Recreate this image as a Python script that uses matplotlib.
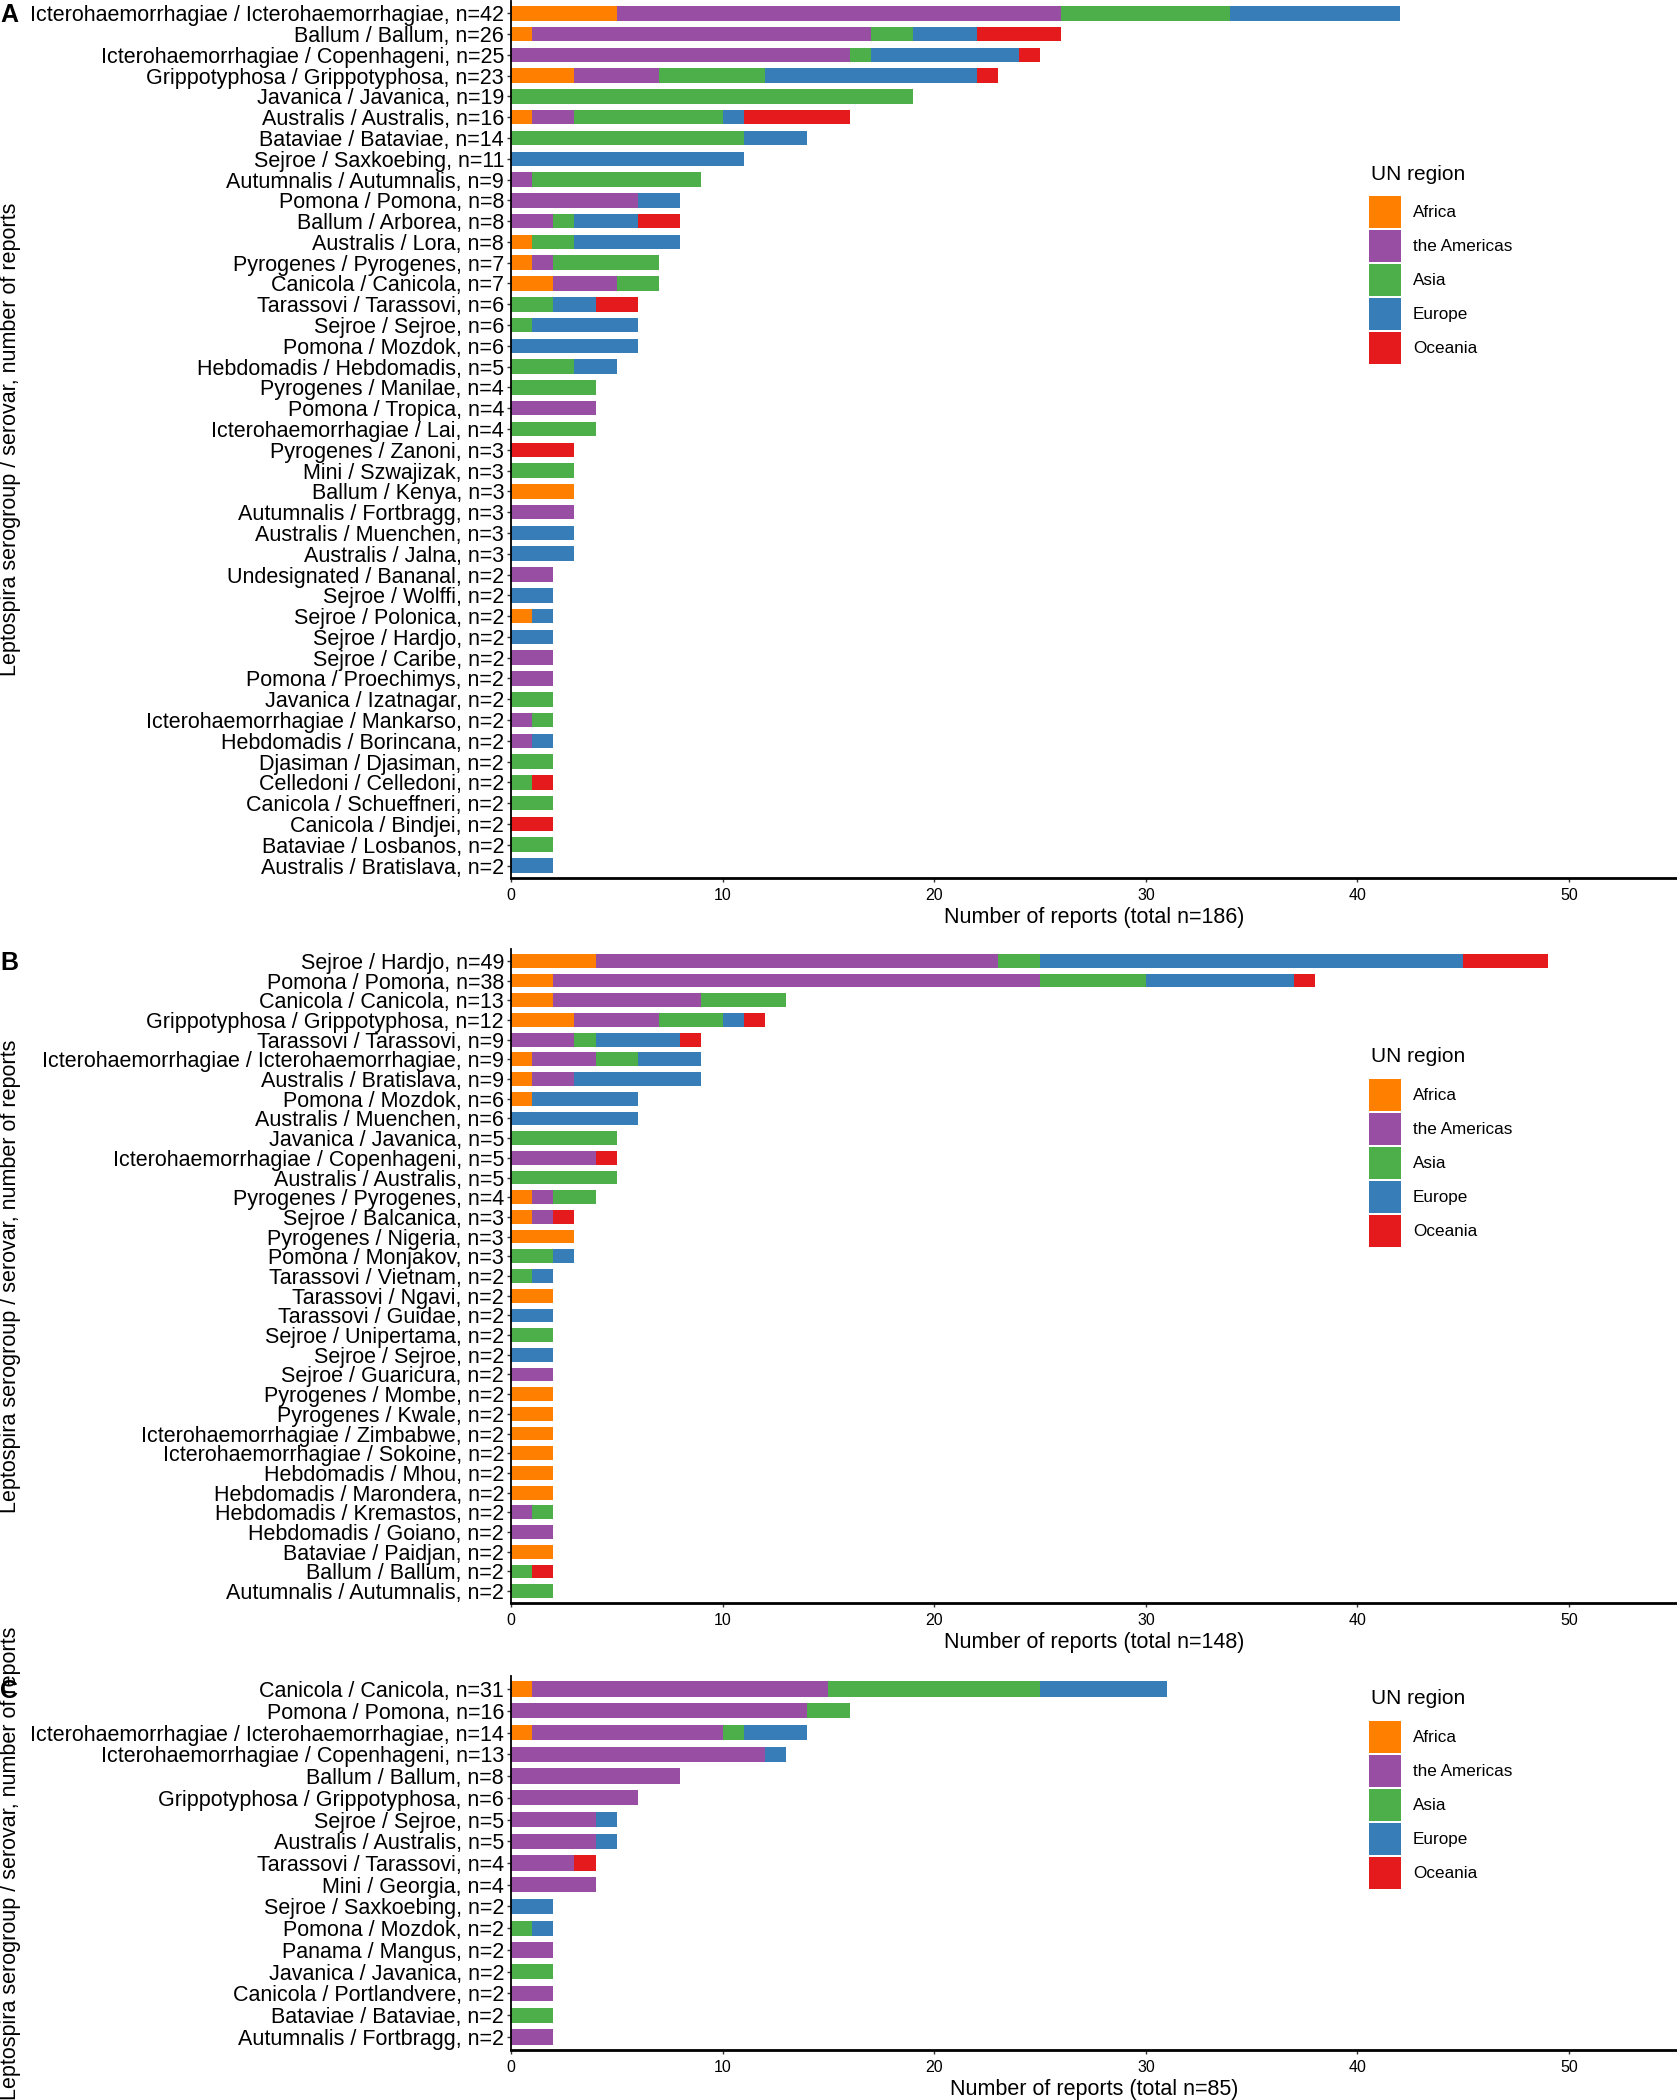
import matplotlib
matplotlib.use("Agg")
import matplotlib.pyplot as plt
from matplotlib.patches import Patch

plt.rcParams["font.family"] = ["Liberation Sans", "DejaVu Sans"]

W, H = 1677, 2100

REGIONS = ["Africa", "the Americas", "Asia", "Europe", "Oceania"]
COLORS = ["#FF7F00", "#984EA3", "#4DAF4A", "#377EB8", "#E41A1C"]

# Panel A
a_labels = [
    "Icterohaemorrhagiae / Icterohaemorrhagiae, n=42", "Ballum / Ballum, n=26",
    "Icterohaemorrhagiae / Copenhageni, n=25", "Grippotyphosa / Grippotyphosa, n=23",
    "Javanica / Javanica, n=19", "Australis / Australis, n=16", "Bataviae / Bataviae, n=14",
    "Sejroe / Saxkoebing, n=11", "Autumnalis / Autumnalis, n=9", "Pomona / Pomona, n=8",
    "Ballum / Arborea, n=8", "Australis / Lora, n=8", "Pyrogenes / Pyrogenes, n=7",
    "Canicola / Canicola, n=7", "Tarassovi / Tarassovi, n=6", "Sejroe / Sejroe, n=6",
    "Pomona / Mozdok, n=6", "Hebdomadis / Hebdomadis, n=5", "Pyrogenes / Manilae, n=4",
    "Pomona / Tropica, n=4", "Icterohaemorrhagiae / Lai, n=4", "Pyrogenes / Zanoni, n=3",
    "Mini / Szwajizak, n=3", "Ballum / Kenya, n=3", "Autumnalis / Fortbragg, n=3",
    "Australis / Muenchen, n=3", "Australis / Jalna, n=3", "Undesignated / Bananal, n=2",
    "Sejroe / Wolffi, n=2", "Sejroe / Polonica, n=2", "Sejroe / Hardjo, n=2",
    "Sejroe / Caribe, n=2", "Pomona / Proechimys, n=2", "Javanica / Izatnagar, n=2",
    "Icterohaemorrhagiae / Mankarso, n=2", "Hebdomadis / Borincana, n=2",
    "Djasiman / Djasiman, n=2", "Celledoni / Celledoni, n=2", "Canicola / Schueffneri, n=2",
    "Canicola / Bindjei, n=2", "Bataviae / Losbanos, n=2", "Australis / Bratislava, n=2",
]
a_africa = [5, 1, 0, 3, 0, 1, 0, 0, 0, 0, 0, 1, 1, 2, 0, 0, 0, 0, 0, 0, 0,
            0, 0, 3, 0, 0, 0, 0, 0, 1, 0, 0, 0, 0, 0, 0, 0, 0, 0, 0, 0, 0]
a_americas = [21, 16, 16, 4, 0, 2, 0, 0, 1, 6, 2, 0, 1, 3, 0, 0, 0, 0, 0, 4, 0,
              0, 0, 0, 3, 0, 0, 2, 0, 0, 0, 2, 2, 0, 1, 1, 0, 0, 0, 0, 0, 0]
a_asia = [8, 2, 1, 5, 19, 7, 11, 0, 8, 0, 1, 2, 5, 2, 2, 1, 0, 3, 4, 0, 4,
          0, 3, 0, 0, 0, 0, 0, 0, 0, 0, 0, 0, 2, 1, 0, 2, 1, 2, 0, 2, 0]
a_europe = [8, 3, 7, 10, 0, 1, 3, 11, 0, 2, 3, 5, 0, 0, 2, 5, 6, 2, 0, 0, 0,
            0, 0, 0, 0, 3, 3, 0, 2, 1, 2, 0, 0, 0, 0, 1, 0, 0, 0, 0, 0, 2]
a_oceania = [0, 4, 1, 1, 0, 5, 0, 0, 0, 0, 2, 0, 0, 0, 2, 0, 0, 0, 0, 0, 0,
             3, 0, 0, 0, 0, 0, 0, 0, 0, 0, 0, 0, 0, 0, 0, 0, 1, 0, 2, 0, 0]

# Panel B
b_labels = [
    "Sejroe / Hardjo, n=49", "Pomona / Pomona, n=38", "Canicola / Canicola, n=13",
    "Grippotyphosa / Grippotyphosa, n=12", "Tarassovi / Tarassovi, n=9",
    "Icterohaemorrhagiae / Icterohaemorrhagiae, n=9", "Australis / Bratislava, n=9",
    "Pomona / Mozdok, n=6", "Australis / Muenchen, n=6", "Javanica / Javanica, n=5",
    "Icterohaemorrhagiae / Copenhageni, n=5", "Australis / Australis, n=5",
    "Pyrogenes / Pyrogenes, n=4", "Sejroe / Balcanica, n=3", "Pyrogenes / Nigeria, n=3",
    "Pomona / Monjakov, n=3", "Tarassovi / Vietnam, n=2", "Tarassovi / Ngavi, n=2",
    "Tarassovi / Guidae, n=2", "Sejroe / Unipertama, n=2", "Sejroe / Sejroe, n=2",
    "Sejroe / Guaricura, n=2", "Pyrogenes / Mombe, n=2", "Pyrogenes / Kwale, n=2",
    "Icterohaemorrhagiae / Zimbabwe, n=2", "Icterohaemorrhagiae / Sokoine, n=2",
    "Hebdomadis / Mhou, n=2", "Hebdomadis / Marondera, n=2", "Hebdomadis / Kremastos, n=2",
    "Hebdomadis / Goiano, n=2", "Bataviae / Paidjan, n=2", "Ballum / Ballum, n=2",
    "Autumnalis / Autumnalis, n=2",
]
b_africa = [4, 2, 2, 3, 0, 1, 1, 1, 0, 0, 0, 0, 1, 1, 3, 0, 0, 2, 0, 0, 0,
            0, 2, 2, 2, 2, 2, 2, 0, 0, 2, 0, 0]
b_americas = [19, 23, 7, 4, 3, 3, 2, 0, 0, 0, 4, 0, 1, 1, 0, 0, 0, 0, 0, 0, 0,
              2, 0, 0, 0, 0, 0, 0, 1, 2, 0, 0, 0]
b_asia = [2, 5, 4, 3, 1, 2, 0, 0, 0, 5, 0, 5, 2, 0, 0, 2, 1, 0, 0, 2, 0,
          0, 0, 0, 0, 0, 0, 0, 1, 0, 0, 1, 2]
b_europe = [20, 7, 0, 1, 4, 3, 6, 5, 6, 0, 0, 0, 0, 0, 0, 1, 1, 0, 2, 0, 2,
            0, 0, 0, 0, 0, 0, 0, 0, 0, 0, 0, 0]
b_oceania = [4, 1, 0, 1, 1, 0, 0, 0, 0, 0, 1, 0, 0, 1, 0, 0, 0, 0, 0, 0, 0,
             0, 0, 0, 0, 0, 0, 0, 0, 0, 0, 1, 0]

# Panel C
c_labels = [
    "Canicola / Canicola, n=31", "Pomona / Pomona, n=16",
    "Icterohaemorrhagiae / Icterohaemorrhagiae, n=14", "Icterohaemorrhagiae / Copenhageni, n=13",
    "Ballum / Ballum, n=8", "Grippotyphosa / Grippotyphosa, n=6", "Sejroe / Sejroe, n=5",
    "Australis / Australis, n=5", "Tarassovi / Tarassovi, n=4", "Mini / Georgia, n=4",
    "Sejroe / Saxkoebing, n=2", "Pomona / Mozdok, n=2", "Panama / Mangus, n=2",
    "Javanica / Javanica, n=2", "Canicola / Portlandvere, n=2", "Bataviae / Bataviae, n=2",
    "Autumnalis / Fortbragg, n=2",
]
c_africa = [1, 0, 1, 0, 0, 0, 0, 0, 0, 0, 0, 0, 0, 0, 0, 0, 0]
c_americas = [14, 14, 9, 12, 8, 6, 4, 4, 3, 4, 0, 0, 2, 0, 2, 0, 2]
c_asia = [10, 2, 1, 0, 0, 0, 0, 0, 0, 0, 0, 1, 0, 2, 0, 2, 0]
c_europe = [6, 0, 3, 1, 0, 0, 1, 1, 0, 0, 2, 1, 0, 0, 0, 0, 0]
c_oceania = [0, 0, 0, 0, 0, 0, 0, 0, 1, 0, 0, 0, 0, 0, 0, 0, 0]

totals = [186, 148, 85]

FS = 15.5
YLABEL = "Leptospira serogroup / serovar, number of reports"


def px_axes(fig, left, top, right, bottom):
    return fig.add_axes([left / W, 1 - bottom / H, (right - left) / W, (bottom - top) / H])


def draw_panel(ax, labels, series, total):
    n = len(labels)
    ypos = list(range(n))
    left = [0] * n
    for vals, col in zip(series, COLORS):
        ax.barh(ypos, vals, left=left, height=0.7, color=col, linewidth=0)
        left = [a + b for a, b in zip(left, vals)]
    ax.set_ylim(n - 0.4, -0.6)
    ax.set_xlim(0, 55.1)
    ax.set_yticks(ypos)
    ax.set_yticklabels(labels, fontsize=FS)
    ax.set_xticks([0, 10, 20, 30, 40, 50])
    ax.tick_params(axis="x", labelsize=11.5, length=3, width=1, pad=4, colors="#333333",
                   labelcolor="black")
    ax.tick_params(axis="y", length=3, width=1, pad=2, colors="#333333", labelcolor="black")
    ax.set_xlabel(f"Number of reports (total n={total})", fontsize=FS, labelpad=3)
    for s in ["top", "right"]:
        ax.spines[s].set_visible(False)
    ax.spines["left"].set_linewidth(1.3)
    ax.spines["bottom"].set_linewidth(2.0)


fig = plt.figure(figsize=(W / 100, H / 100), dpi=100)

# letter, labels, series, (axes top, axes bottom) px, legend title centre px
panels = [
    ("A", a_labels, [a_africa, a_americas, a_asia, a_europe, a_oceania], (0.8, 878), 174),
    ("B", b_labels, [b_africa, b_americas, b_asia, b_europe, b_oceania], (949, 1603), 1057),
    ("C", c_labels, [c_africa, c_americas, c_asia, c_europe, c_oceania], (1676, 2050), 1699),
]

handles = [Patch(facecolor=c, edgecolor="none") for c in COLORS]

for (letter, labels, series, (top, bottom), title_y), total in zip(panels, totals):
    ax = px_axes(fig, 511, top, W, bottom)
    draw_panel(ax, labels, series, total)
    row_h = (bottom - top) / (len(labels) + 0.2)
    first_row = top + 0.6 * row_h
    fig.text(11 / W, 1 - (top + bottom) / 2 / H, YLABEL, rotation=90,
             ha="center", va="center", fontsize=FS)
    fig.text(0, 1 - (first_row + 2) / H, letter, ha="left", va="center",
             fontsize=18, fontweight="bold")
    # legend title drawn separately to get the wider gap above the keys
    fig.text(1371 / W, 1 - title_y / H, "UN region", ha="left", va="center", fontsize=15)
    fig.legend(handles, REGIONS, loc="upper left",
               bbox_to_anchor=(1369 / W, 1 - (title_y + 22) / H),
               bbox_transform=fig.transFigure, frameon=False,
               fontsize=12.3, handlelength=1.87, handleheight=2.5,
               labelspacing=0.12, handletextpad=0.7, borderpad=0, borderaxespad=0)

fig.savefig("out.png", dpi=100)
